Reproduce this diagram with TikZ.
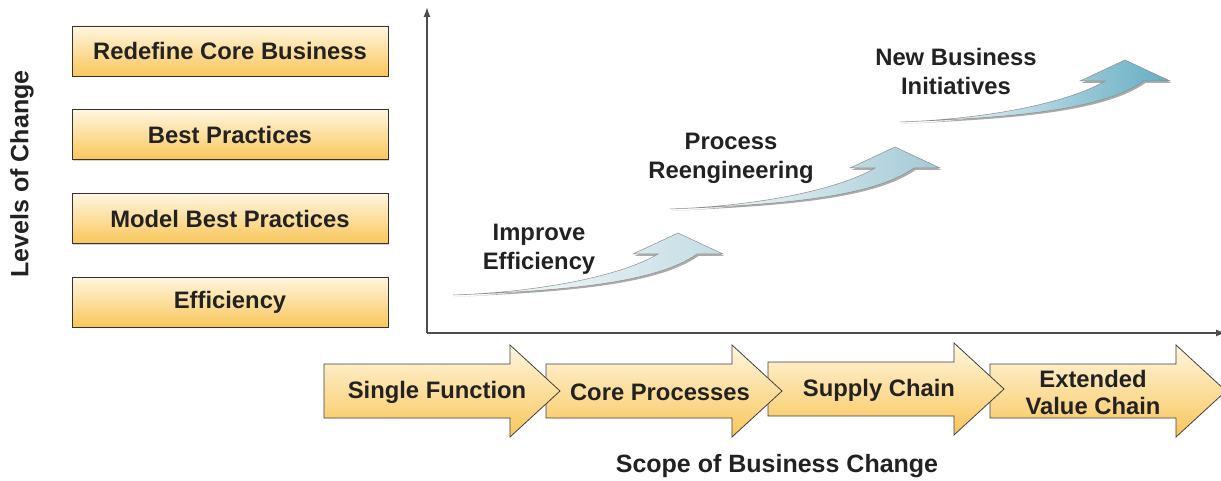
\documentclass[tikz,border=0pt]{standalone}
\usepackage{fontspec}
\setmainfont{Liberation Sans}
\usetikzlibrary{arrows.meta,shadows}
\definecolor{boxtop}{HTML}{FFF6E0}
\definecolor{boxbot}{HTML}{F9C65A}
\definecolor{txt}{HTML}{222222}
\definecolor{axisc}{HTML}{4D4D4D}
\definecolor{blueA}{HTML}{C4DCE4}
\definecolor{blueB}{HTML}{A2C9D6}
\definecolor{blueC}{HTML}{64ADC3}
\begin{document}
\begin{tikzpicture}[x=1pt,y=-1pt,
  every node/.style={text=txt, font=\bfseries\fontsize{23.8}{29}\selectfont},
  levelbox/.style={draw=black!80, line width=0.9pt, top color=boxtop, bottom color=boxbot,
     minimum width=316pt, minimum height=50pt, inner sep=0pt,
     drop shadow={opacity=0.35, shadow xshift=1pt, shadow yshift=-1.2pt}},
  axisline/.style={draw=axisc, line width=1.6pt},
  title/.style={font=\bfseries\fontsize{25}{30}\selectfont},
  flowarrow/.style={draw=black!75, line width=0.8pt, top color=boxtop, bottom color=boxbot},
  risearrow/.style={draw=black!45, line width=0.5pt, left color=white, right color=#1},
  riseshadow/.style={fill=black!60, opacity=0.55},
  pics/bigarrow/.style={code={
    \path[flowarrow] (0,364) -- (186,364) -- (186,345) -- (236,391) -- (186,437)
       -- (186,418) -- (0,418) -- cycle;}},
  pics/rise/.style={code={
    \path[riseshadow] (1.5,2) .. controls (91.5,-2) and (171.5,-18) .. (206.5,-39)
      -- (181.5,-39) -- (226.5,-60) -- (271.5,-39) -- (245.5,-39)
      .. controls (201.5,-8) and (101.5,-3) .. (1.5,2) -- cycle;
    \path[risearrow=#1] (0,0) .. controls (90,-3) and (170,-20) .. (205,-41)
      -- (180,-41) -- (225,-62) -- (270,-41) -- (244,-41)
      .. controls (200,-10) and (100,-4) .. (0,0) -- cycle;}}
]
\useasboundingbox[fill=white] (0,0) rectangle (1221,481);

% level boxes
\node[levelbox] (b1) at (230,51) {Redefine Core Business};
\node[levelbox] (b2) at (230,134.5) {Best Practices};
\node[levelbox] (b3) at (230,218.5) {Model Best Practices};
\node[levelbox] (b4) at (230,302) {Efficiency};
\node[title, rotate=90] (lev) at (22,174) {Levels of Change};

% axes
\coordinate (O) at (427,333);
\coordinate (Ytop) at (427,7);
\coordinate (Xend) at (1226,333);
\draw[axisline, -{Latex[length=10pt,width=7pt]}] (O) -- (Ytop);
\draw[axisline, -{Latex[length=10pt,width=7pt]}] (O) -- (Xend);

% rising arrows
\pic at (453,295) {rise=blueA};
\pic at (670,209) {rise=blueB};
\pic at (900,122) {rise=blueC};
\node[align=center] (l1) at (539,249) {Improve\\Efficiency};
\node[align=center] (l2) at (731,158) {Process\\Reengineering};
\node[align=center] (l3) at (956,71) {New Business\\Initiatives};

% scope arrows (drawn right to left so tips overlap)
\pic at (990,0) {bigarrow};
\pic at (768,-2) {bigarrow};
\pic at (546,0) {bigarrow};
\pic at (324,0) {bigarrow};
\node (s1) at (437,392) {Single Function};
\node (s2) at (660,392) {Core Processes};
\node (s3) at (879,390) {Supply Chain};
\node[align=center, font=\bfseries\fontsize{23.8}{27}\selectfont] (s4) at (1093,392) {Extended\\Value Chain};

\node[title] (scope) at (777,466) {Scope of Business Change};
\end{tikzpicture}
\end{document}
